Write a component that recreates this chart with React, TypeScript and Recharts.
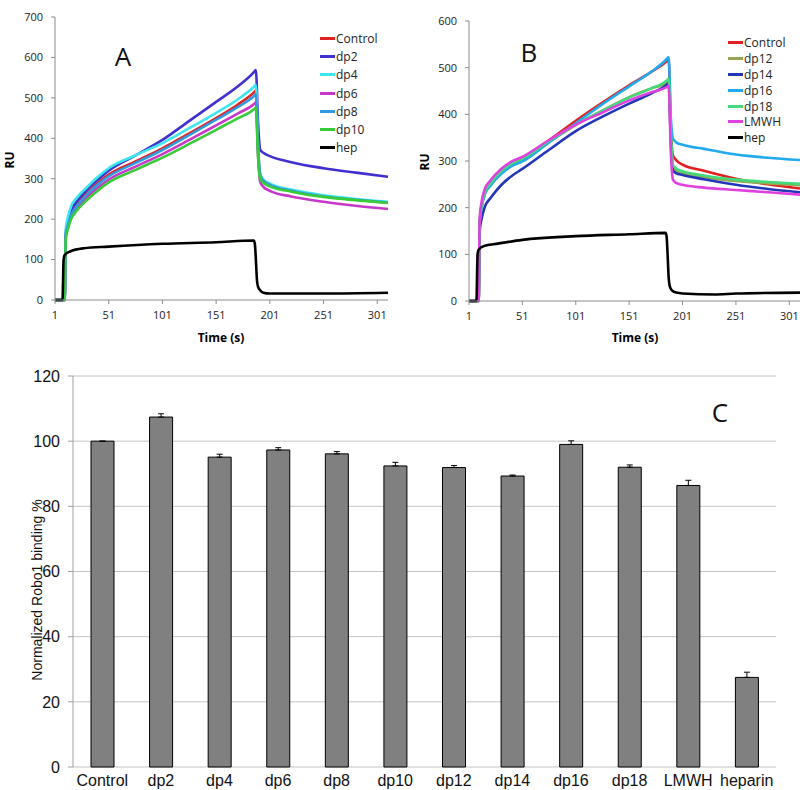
import React from "react";
import { LineChart, Line, XAxis, YAxis, Legend, BarChart, Bar, ErrorBar, CartesianGrid } from "recharts";

// panel A: sensorgrams, time (s) vs RU
const timeA = [1, 9, 10, 11, 13, 16, 21, 31, 41, 51, 76, 101, 126, 151, 171, 186, 188, 190, 192, 195, 201, 221, 251, 281, 311];
const controlA = [0, 0, 0, 160, 188, 214, 235, 266, 290, 310, 343, 375, 412, 450, 483, 513, 518, 380, 310, 296, 286, 271, 257, 248, 241];
const dp2A = [0, 0, 0, 165, 195, 222, 243, 274, 298, 320, 358, 396, 443, 490, 528, 563, 569, 440, 372, 364, 356, 341, 326, 315, 305];
const dp4A = [0, 0, 0, 175, 205, 232, 252, 280, 305, 326, 358, 388, 425, 463, 496, 527, 532, 385, 312, 298, 288, 273, 259, 250, 243];
const dp6A = [0, 0, 0, 155, 180, 205, 225, 255, 278, 298, 330, 361, 396, 432, 461, 484, 489, 360, 292, 280, 270, 256, 243, 233, 225];
const dp8A = [0, 0, 0, 158, 185, 210, 231, 262, 286, 306, 339, 371, 408, 446, 477, 504, 509, 375, 308, 295, 285, 270, 256, 248, 241];
const dp10A = [0, 0, 0, 150, 175, 200, 220, 248, 271, 291, 322, 352, 386, 421, 449, 471, 476, 355, 300, 290, 281, 268, 255, 247, 240];
const hepTimeA = [1, 8, 9, 10, 15, 28, 51, 101, 151, 186, 187, 188, 189, 190, 192, 195, 201, 251, 311];
const hepA = [0, 0, 100, 111, 120, 128, 132, 139, 143, 147, 140, 100, 50, 33, 24, 18, 16, 16, 18];

// panel B
const timeB = [1, 9, 10, 11, 13, 16, 21, 31, 41, 51, 76, 101, 126, 151, 171, 186, 188, 190, 192, 195, 201, 221, 251, 281, 311];
const controlB = [0, 0, 0, 165, 205, 232, 250, 276, 293, 302, 344, 386, 425, 462, 490, 513, 517, 370, 312, 302, 292, 279, 262, 250, 241];
const dp12B = [0, 0, 0, 165, 203, 230, 248, 274, 292, 303, 341, 377, 408, 437, 455, 467, 471, 355, 286, 279, 274, 265, 257, 252, 248];
const dp14B = [0, 0, 0, 150, 178, 203, 220, 248, 268, 283, 324, 364, 395, 423, 444, 463, 467, 345, 280, 274, 270, 261, 249, 240, 233];
const dp16B = [0, 0, 0, 168, 203, 230, 247, 272, 289, 299, 340, 381, 422, 460, 490, 518, 523, 395, 348, 340, 335, 326, 314, 307, 302];
const dp18B = [0, 0, 0, 168, 206, 234, 252, 278, 295, 305, 343, 378, 408, 436, 455, 472, 476, 360, 292, 284, 278, 269, 260, 255, 251];
const lmwhB = [0, 0, 0, 178, 215, 241, 258, 283, 299, 309, 345, 378, 404, 430, 447, 458, 461, 320, 260, 253, 249, 243, 238, 233, 228];
const hepTimeB = [1, 8, 9, 10, 15, 28, 51, 101, 151, 185, 186, 187, 188, 189, 191, 195, 201, 231, 251, 311];
const hepB = [0, 0, 100, 110, 118, 123, 131, 139, 143, 146, 140, 100, 50, 32, 23, 18, 16, 14, 16, 18];

const timeTicks = [1, 51, 101, 151, 201, 251, 301];

// panel C: normalized binding
const categoriesC = ["Control", "dp2", "dp4", "dp6", "dp8", "dp10", "dp12", "dp14", "dp16", "dp18", "LMWH", "heparin"];
const bindingC = [100, 107.4, 95.1, 97.3, 96.1, 92.4, 91.9, 89.3, 99.0, 92.0, 86.4, 27.5];
const errorC = [0, 1.0, 0.9, 0.7, 0.7, 1.1, 0.6, 0.3, 1.1, 0.7, 1.6, 1.6];

const seriesA = [
  { name: "Control", values: controlA, color: "#dd2222" },
  { name: "dp2", values: dp2A, color: "#4030d0" },
  { name: "dp4", values: dp4A, color: "#3ee6ee" },
  { name: "dp6", values: dp6A, color: "#c838c8" },
  { name: "dp8", values: dp8A, color: "#3399dd" },
  { name: "dp10", values: dp10A, color: "#38cc38" },
];
const seriesB = [
  { name: "Control", values: controlB, color: "#e02020" },
  { name: "dp12", values: dp12B, color: "#96a550" },
  { name: "dp14", values: dp14B, color: "#2236b8" },
  { name: "dp16", values: dp16B, color: "#22aaee" },
  { name: "dp18", values: dp18B, color: "#44d97a" },
  { name: "LMWH", values: lmwhB, color: "#e040e0" },
];

const toRows = (times: number[], series: any[]) =>
  times.map((t, i) => {
    const row: any = { t };
    series.forEach((s) => (row[s.name] = s.values[i]));
    return row;
  });

const rowsA = toRows(timeA, seriesA);
const rowsB = toRows(timeB, seriesB);
const hepRowsA = hepTimeA.map((t, i) => ({ t, hep: hepA[i] }));
const hepRowsB = hepTimeB.map((t, i) => ({ t, hep: hepB[i] }));
const rowsC = categoriesC.map((name, i) => ({ name, value: bindingC[i], err: [0, errorC[i]] }));

const SANS = "'Open Sans', sans-serif";
const ARIAL = "'Liberation Sans', Arial, sans-serif";
const axisGray = "#8c8c8c";
const tickStyle = { fontFamily: SANS, fontSize: 11, fill: "#222" };

function SeriesLegend({ payload, rowHeight, order }: any) {
  const items = [...(payload || [])].sort((a: any, b: any) => order.indexOf(a.value) - order.indexOf(b.value));
  return (
    <div style={{ fontFamily: SANS, fontSize: 12, color: "#222" }}>
      {items.map((p: any) => (
        <div key={p.value} style={{ display: "flex", alignItems: "center", height: rowHeight }}>
          <span style={{ display: "inline-block", width: 15, height: 3, background: p.color, marginRight: 1 }} />
          <span>{p.value}</span>
        </div>
      ))}
    </div>
  );
}

function Txt({ x, y, children, style, rotate }: any) {
  return (
    <div
      style={{
        position: "absolute",
        left: x,
        top: y,
        transform: `translate(-50%, -50%)${rotate ? " rotate(-90deg)" : ""}`,
        whiteSpace: "nowrap",
        lineHeight: 1,
        ...style,
      }}
    >
      {children}
    </div>
  );
}

function Sensorgram({ rows, hepRows, series, yMax, yAxisWidth, top, right, xAxisHeight, legendLeft, legendTop, rowHeight }: any) {
  const yTicks = [];
  for (let v = 0; v <= yMax; v += 100) yTicks.push(v);
  const order = series.map((s: any) => s.name).concat(["hep"]);
  return (
    <LineChart width={400} height={345} margin={{ top, right, bottom: 0, left: 0 }}>
      <XAxis
        type="number"
        dataKey="t"
        domain={[1, 311]}
        ticks={timeTicks}
        allowDataOverflow
        height={xAxisHeight}
        axisLine={{ stroke: axisGray }}
        tickLine={{ stroke: axisGray }}
        tickSize={4}
        tickMargin={7}
        tick={tickStyle}
        interval={0}
      />
      <YAxis
        type="number"
        domain={[0, yMax]}
        ticks={yTicks}
        width={yAxisWidth}
        axisLine={{ stroke: axisGray }}
        tickLine={{ stroke: axisGray }}
        tickSize={4}
        tickMargin={8}
        tick={tickStyle}
        interval={0}
      />
      <Legend
        layout="vertical"
        align="center"
        verticalAlign="middle"
        wrapperStyle={{ left: legendLeft, top: legendTop, width: "auto" }}
        content={(props: any) => <SeriesLegend payload={props.payload} rowHeight={rowHeight} order={order} />}
      />
      {series.map((s: any) => (
        <Line
          key={s.name}
          data={rows}
          dataKey={s.name}
          name={s.name}
          type="monotone"
          stroke={s.color}
          strokeWidth={2.6}
          dot={false}
          isAnimationActive={false}
        />
      ))}
      <Line
        data={hepRows}
        dataKey="hep"
        name="hep"
        type="monotone"
        stroke="#000"
        strokeWidth={2.6}
        dot={false}
        isAnimationActive={false}
      />
    </LineChart>
  );
}

export default function App() {
  const edgeTicks = categoriesC.map((_, i) => i).concat([categoriesC.length]);
  return (
    <div style={{ position: "absolute", left: 0, top: 0, width: 800, height: 790, background: "#fff", overflow: "hidden" }}>
      <div style={{ position: "absolute", left: 0, top: 0 }}>
        <Sensorgram
          rows={rowsA}
          hepRows={hepRowsA}
          series={seriesA}
          yMax={700}
          yAxisWidth={55}
          top={17}
          right={12}
          xAxisHeight={45}
          legendLeft={320}
          legendTop={29}
          rowHeight={18.3}
        />
      </div>
      <div style={{ position: "absolute", left: 400, top: 0 }}>
        <Sensorgram
          rows={rowsB}
          hepRows={hepRowsB}
          series={seriesB}
          yMax={600}
          yAxisWidth={69}
          top={21}
          right={0}
          xAxisHeight={44}
          legendLeft={328}
          legendTop={35}
          rowHeight={15.8}
        />
      </div>
      <div style={{ position: "absolute", left: 0, top: 360 }}>
        <BarChart width={800} height={430} data={rowsC} margin={{ top: 16, right: 24, bottom: 0, left: 0 }}>
          <CartesianGrid xAxisId="cat" vertical={false} stroke="#c4c4c4" />
          <XAxis
            xAxisId="edge"
            type="number"
            domain={[0, categoriesC.length]}
            ticks={edgeTicks}
            allowDataOverflow
            height={0}
            axisLine={{ stroke: "#a0a0a0" }}
            tickLine={{ stroke: "#a0a0a0" }}
            tickSize={5}
            tick={false}
          />
          <XAxis
            xAxisId="cat"
            dataKey="name"
            height={23}
            axisLine={false}
            tickLine={false}
            tickSize={5}
            tickMargin={3}
            interval={0}
            tick={{ fontFamily: ARIAL, fontSize: 16, fill: "#111" }}
          />
          <YAxis
            domain={[0, 120]}
            ticks={[0, 20, 40, 60, 80, 100, 120]}
            width={73}
            axisLine={{ stroke: "#a0a0a0" }}
            tickLine={{ stroke: "#a0a0a0" }}
            tickSize={5}
            tickMargin={8}
            tick={{ fontFamily: ARIAL, fontSize: 16, fill: "#111" }}
          />
          <Bar xAxisId="cat" dataKey="value" fill="#808080" stroke="#000" strokeWidth={1} barSize={23} isAnimationActive={false}>
            <ErrorBar dataKey="err" direction="y" width={3} stroke="#000" strokeWidth={1} />
          </Bar>
        </BarChart>
      </div>

      <Txt x={10} y={160} rotate style={{ fontFamily: SANS, fontWeight: 700, fontSize: 12 }}>RU</Txt>
      <Txt x={425} y={162} rotate style={{ fontFamily: SANS, fontWeight: 700, fontSize: 12 }}>RU</Txt>
      <Txt x={221} y={338} style={{ fontFamily: SANS, fontWeight: 700, fontSize: 12 }}>Time (s)</Txt>
      <Txt x={635} y={338} style={{ fontFamily: SANS, fontWeight: 700, fontSize: 12 }}>Time (s)</Txt>
      <Txt x={37} y={590} rotate style={{ fontFamily: ARIAL, fontSize: 14, color: "#111" }}>Normalized Robo1 binding %</Txt>
      <Txt x={123} y={56} style={{ fontFamily: SANS, fontSize: 26, color: "#111" }}>A</Txt>
      <Txt x={529} y={52} style={{ fontFamily: SANS, fontSize: 26, color: "#111" }}>B</Txt>
      <Txt x={720} y={412} style={{ fontFamily: SANS, fontSize: 26, color: "#111" }}>C</Txt>
    </div>
  );
}
